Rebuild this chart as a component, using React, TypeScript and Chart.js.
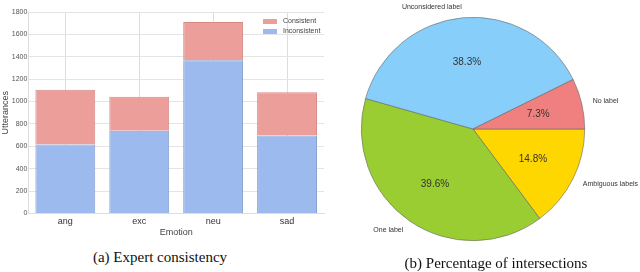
import React, { useEffect, useRef } from "react";
import { Chart, registerables } from "chart.js";

Chart.register(...registerables);

const emotions = ["ang", "exc", "neu", "sad"];
const inconsistent = [616, 738, 1369, 697];
const consistent = [490, 305, 341, 385];
const yTicks = [0, 200, 400, 600, 800, 1000, 1200, 1400, 1600, 1800];

const pieLabels = ["Ambiguous labels", "One label", "Unconsidered label", "No label"];
const pieValues = [14.8, 39.6, 38.3, 7.3];
const pieColors = ["#FFD700", "#9ACD32", "#87CEFA", "#F08080"];

const FONT = "'Liberation Sans', Arial, sans-serif";

const barLegendPlugin = {
  id: "barLegend",
  afterDatasetsDraw(chart: any) {
    const ctx = chart.ctx;
    const area = chart.chartArea;
    const ds = chart.data.datasets;
    ctx.save();
    ctx.font = `7px ${FONT}`;
    ctx.textBaseline = "middle";
    ctx.textAlign = "left";
    const boxX = area.right - 61;
    ds.forEach((d: any, i: number) => {
      const cy = area.top + 9 + i * 10;
      ctx.fillStyle = d.backgroundColor;
      ctx.fillRect(boxX, cy - 2, 14, 5);
      ctx.fillStyle = "#444";
      ctx.fillText(d.label, boxX + 20, cy + 0.5);
    });
    ctx.restore();
  },
};

const pieLabelPlugin = {
  id: "pieLabels",
  afterDatasetsDraw(chart: any) {
    const ctx = chart.ctx;
    const meta = chart.getDatasetMeta(0);
    ctx.save();
    meta.data.forEach((arc: any, i: number) => {
      const { x, y, startAngle, endAngle, outerRadius } = arc.getProps(
        ["x", "y", "startAngle", "endAngle", "outerRadius"],
        true
      );
      const mid = (startAngle + endAngle) / 2;
      const c = Math.cos(mid);
      const s = Math.sin(mid);
      ctx.fillStyle = "#333";
      ctx.font = `10px ${FONT}`;
      ctx.textAlign = "center";
      ctx.textBaseline = "middle";
      ctx.fillText(pieValues[i].toFixed(1) + "%", x + c * outerRadius * 0.6, y + s * outerRadius * 0.6);
      ctx.font = `7px ${FONT}`;
      ctx.fillStyle = "#333";
      ctx.textAlign = c >= 0 ? "left" : "right";
      ctx.fillText(pieLabels[i], x + c * outerRadius * 1.1, y + s * outerRadius * 1.1);
    });
    ctx.restore();
  },
};

export default function App() {
  const barRef = useRef<HTMLCanvasElement>(null);
  const pieRef = useRef<HTMLCanvasElement>(null);

  useEffect(() => {
    document.body.style.margin = "0";
    const bar = new Chart(barRef.current!, {
      type: "bar",
      data: {
        labels: emotions,
        datasets: [
          {
            label: "Consistent",
            data: consistent,
            backgroundColor: "#EB9E9A",
            borderColor: "#D88A86",
            borderWidth: 1,
            stack: "s",
            order: 2,
          },
          {
            label: "Inconsistent",
            data: inconsistent,
            backgroundColor: "#9CBAEE",
            borderColor: "#869FCB",
            borderWidth: 1,
            stack: "s",
            order: 1,
          },
        ],
      },
      options: {
        animation: false,
        responsive: false,
        maintainAspectRatio: false,
        layout: { padding: { left: 0, right: 6, top: 12, bottom: 0 } },
        datasets: { bar: { barPercentage: 0.81, categoryPercentage: 1 } },
        scales: {
          x: {
            stacked: true,
            grid: { color: "#dddddd", offset: false, drawTicks: false },
            border: { color: "#dddddd" },
            ticks: { color: "#333", font: { family: FONT, size: 9 }, padding: 3 },
            title: { display: true, text: "Emotion", color: "#444", font: { family: FONT, size: 9 }, padding: { top: -3, bottom: 3 } },
          },
          y: {
            stacked: true,
            min: 0,
            max: 1800,
            afterBuildTicks: (axis: any) => {
              axis.ticks = yTicks.map((v) => ({ value: v }));
            },
            grid: { color: "#e4e4e4", drawTicks: false },
            border: { color: "#dddddd" },
            ticks: { color: "#555", font: { family: FONT, size: 7 }, padding: 1, callback: (v: any) => String(v) },
            title: { display: true, text: "Utterances", color: "#444", font: { family: FONT, size: 9 }, padding: { top: 0, bottom: 0 } },
          },
        },
        plugins: {
          legend: { display: false },
          tooltip: { enabled: false },
        },
      },
      plugins: [barLegendPlugin],
    } as any);

    const pie = new Chart(pieRef.current!, {
      type: "pie",
      data: {
        labels: pieLabels,
        datasets: [
          {
            data: pieValues,
            backgroundColor: pieColors,
            borderColor: "#666",
            borderWidth: 0.6,
          },
        ],
      },
      options: {
        animation: false,
        responsive: false,
        maintainAspectRatio: false,
        rotation: 90,
        layout: { padding: { left: 31, right: 55, top: 17, bottom: 19 } },
        plugins: { legend: { display: false }, tooltip: { enabled: false } },
      },
      plugins: [pieLabelPlugin],
    } as any);

    return () => {
      bar.destroy();
      pie.destroy();
    };
  }, []);

  const caption: React.CSSProperties = {
    position: "absolute",
    fontFamily: "'Liberation Serif', 'Times New Roman', serif",
    fontSize: 15,
    lineHeight: "17px",
    color: "#111",
    whiteSpace: "nowrap",
    transform: "translateX(-50%)",
  };

  return (
    <div style={{ position: "fixed", left: 0, top: 0, width: 640, height: 272, background: "#fff" }}>
      <canvas ref={barRef} width={330} height={241} style={{ position: "absolute", left: 0, top: 0 }} />
      <canvas ref={pieRef} width={310} height={260} style={{ position: "absolute", left: 330, top: 0 }} />
      <div style={{ ...caption, left: 160, top: 249 }}>(a) Expert consistency</div>
      <div style={{ ...caption, left: 496, top: 255 }}>(b) Percentage of intersections</div>
    </div>
  );
}
